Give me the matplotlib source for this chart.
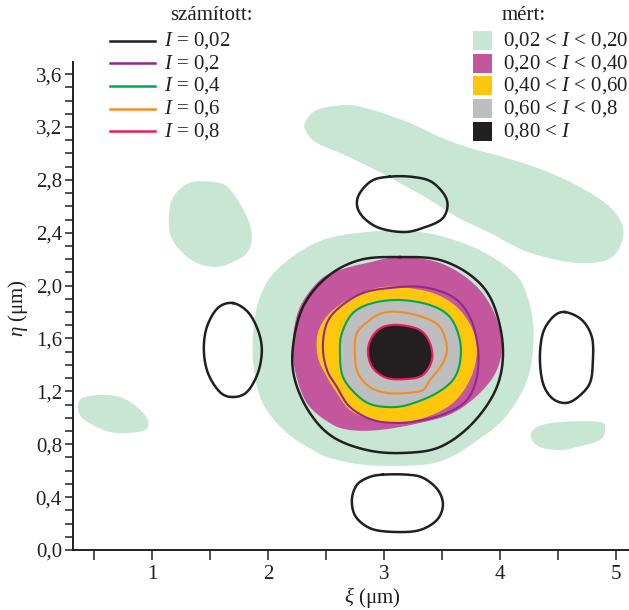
import numpy as np
import matplotlib.pyplot as plt
from matplotlib.lines import Line2D
from matplotlib.patches import Rectangle
from matplotlib.ticker import MultipleLocator, FuncFormatter

plt.rcParams['font.family'] = ['Liberation Serif', 'DejaVu Serif']
plt.rcParams['mathtext.fontset'] = 'custom'
plt.rcParams['mathtext.rm'] = 'Liberation Serif'
plt.rcParams['mathtext.it'] = 'Liberation Serif:italic'
plt.rcParams['mathtext.fallback'] = 'stix'

mert_002_center = [(2.966, 2.413), (3.371, 2.398), (3.767, 2.292), (4.060, 2.141), (4.198, 2.005),
                   (4.284, 1.740), (4.276, 1.437), (4.198, 1.210), (4.026, 0.983), (3.810, 0.832),
                   (3.612, 0.719), (3.397, 0.651), (3.052, 0.635), (2.767, 0.651), (2.534, 0.696),
                   (2.388, 0.756), (2.164, 0.885), (1.974, 1.082), (1.888, 1.309), (1.871, 1.611),
                   (1.931, 1.914), (2.103, 2.141), (2.474, 2.345)]
mert_002_band = [(2.319, 3.230), (2.422, 3.328), (2.681, 3.366), (2.905, 3.328), (3.224, 3.230),
                 (3.483, 3.124), (3.741, 3.041), (4.026, 2.973), (4.371, 2.874), (4.690, 2.746),
                 (4.948, 2.595), (5.060, 2.443), (5.034, 2.292), (4.922, 2.194), (4.716, 2.171),
                 (4.491, 2.194), (4.198, 2.269), (3.914, 2.398), (3.629, 2.519), (3.397, 2.648),
                 (3.138, 2.776), (2.879, 2.897), (2.621, 3.003), (2.422, 3.079), (2.336, 3.154)]
mert_002_topleft = [(1.353, 2.784), (1.586, 2.776), (1.698, 2.700), (1.819, 2.519), (1.862, 2.368),
                    (1.819, 2.247), (1.698, 2.179), (1.560, 2.141), (1.388, 2.171), (1.241, 2.269),
                    (1.155, 2.398), (1.155, 2.595), (1.216, 2.708)]
mert_002_left = [(0.379, 1.135), (0.526, 1.172), (0.724, 1.157), (0.871, 1.082), (0.966, 0.983),
                 (0.940, 0.908), (0.784, 0.885), (0.638, 0.893), (0.491, 0.946), (0.379, 1.021)]
mert_002_right = [(4.319, 0.930), (4.517, 0.968), (4.862, 0.968), (4.905, 0.908), (4.862, 0.832),
                  (4.664, 0.779), (4.517, 0.756), (4.345, 0.779), (4.267, 0.855)]
mert_020 = [(3.138, 2.216), (3.483, 2.171), (3.767, 2.020), (3.940, 1.815), (4.017, 1.566),
            (3.974, 1.362), (3.828, 1.188), (3.595, 1.036), (3.310, 0.961), (2.966, 0.908),
            (2.707, 0.908), (2.534, 0.961), (2.336, 1.112), (2.233, 1.362), (2.216, 1.589),
            (2.276, 1.838), (2.448, 2.042), (2.621, 2.118), (2.853, 2.171)]
mert_040 = [(3.138, 1.989), (3.422, 1.944), (3.629, 1.838), (3.767, 1.664), (3.802, 1.490),
            (3.741, 1.286), (3.595, 1.112), (3.371, 1.006), (3.138, 0.968), (2.905, 0.983),
            (2.707, 1.059), (2.595, 1.188), (2.509, 1.309), (2.431, 1.460), (2.431, 1.641),
            (2.534, 1.793), (2.733, 1.914), (2.940, 1.982)]

# calculated contours
szam_002 = [(3.138, 2.216), (3.483, 2.194), (3.767, 2.065), (3.940, 1.868), (4.026, 1.536),
            (3.974, 1.233), (3.767, 0.961), (3.483, 0.779), (3.164, 0.734), (2.853, 0.756),
            (2.560, 0.855), (2.362, 1.036), (2.233, 1.286), (2.216, 1.536), (2.302, 1.838),
            (2.509, 2.065), (2.793, 2.194)]
szam_002_top = [(3.050, 2.824), (3.250, 2.822), (3.420, 2.780), (3.543, 2.648), (3.509, 2.511),
                (3.336, 2.436), (3.164, 2.405), (2.940, 2.443), (2.793, 2.549), (2.776, 2.670),
                (2.890, 2.790)]
szam_002_bottom = [(2.990, 0.570), (3.200, 0.570), (3.340, 0.545), (3.466, 0.454), (3.509, 0.340),
                   (3.457, 0.227), (3.310, 0.151), (3.112, 0.136), (2.897, 0.159), (2.759, 0.250),
                   (2.724, 0.378), (2.767, 0.492), (2.870, 0.550)]
szam_002_left = [(1.698, 1.868), (1.828, 1.800), (1.914, 1.664), (1.948, 1.513), (1.914, 1.339),
                 (1.819, 1.195), (1.698, 1.157), (1.586, 1.195), (1.483, 1.339), (1.448, 1.513),
                 (1.474, 1.687), (1.569, 1.831)]
szam_002_right = [(4.560, 1.800), (4.707, 1.740), (4.793, 1.611), (4.802, 1.437), (4.776, 1.263),
                  (4.664, 1.150), (4.560, 1.112), (4.448, 1.150), (4.371, 1.263), (4.345, 1.452),
                  (4.371, 1.641), (4.457, 1.762)]
szam_02 = [(2.819, 1.944), (3.052, 1.982), (3.336, 1.989), (3.595, 1.914), (3.741, 1.762),
           (3.810, 1.536), (3.802, 1.309), (3.716, 1.135), (3.543, 1.036), (3.336, 0.983),
           (3.138, 0.961), (2.905, 0.983), (2.707, 1.082), (2.595, 1.233), (2.509, 1.362),
           (2.474, 1.536), (2.509, 1.717), (2.621, 1.838)]
szam_04 = [(3.138, 1.891), (3.397, 1.853), (3.569, 1.762), (3.655, 1.589), (3.655, 1.415),
           (3.595, 1.286), (3.457, 1.188), (3.284, 1.120), (3.112, 1.082), (2.905, 1.097),
           (2.767, 1.172), (2.647, 1.309), (2.621, 1.490), (2.638, 1.641), (2.733, 1.793),
           (2.905, 1.868)]
szam_06 = [(3.138, 1.800), (3.336, 1.762), (3.483, 1.687), (3.543, 1.536), (3.509, 1.415),
           (3.397, 1.286), (3.336, 1.210), (3.198, 1.188), (3.026, 1.188), (2.879, 1.233),
           (2.776, 1.339), (2.750, 1.490), (2.767, 1.641), (2.879, 1.740), (2.991, 1.793)]
szam_08 = [(3.138, 1.702), (3.310, 1.664), (3.397, 1.566), (3.414, 1.437), (3.336, 1.324),
           (3.198, 1.293), (3.026, 1.301), (2.905, 1.377), (2.862, 1.498), (2.897, 1.611),
           (2.991, 1.687)]

szam_labels = ['$I$ = 0,02', '$I$ = 0,2', '$I$ = 0,4', '$I$ = 0,6', '$I$ = 0,8']
szam_colors = ['#231F20', '#93278F', '#00A650', '#F68B1F', '#ED1C5B']
mert_labels = ['0,02 < $I$ < 0,20', '0,20 < $I$ < 0,40', '0,40 < $I$ < 0,60',
               '0,60 < $I$ < 0,8', '0,80 < $I$']
mert_colors = ['#C8E6D4', '#C4569D', '#FFC60B', '#BCBEC0', '#231F20']

ink = '#231F20'


def smooth(pts, n=16):
    p = np.array(pts)
    m = len(p)
    t = np.linspace(0, 1, n, endpoint=False)[:, None]
    segs = []
    for i in range(m):
        p0, p1, p2, p3 = p[i - 1], p[i], p[(i + 1) % m], p[(i + 2) % m]
        segs.append(0.5 * (2 * p1 + (-p0 + p2) * t + (2 * p0 - 5 * p1 + 4 * p2 - p3) * t ** 2
                           + (-p0 + 3 * p1 - 3 * p2 + p3) * t ** 3))
    out = np.vstack(segs)
    out = np.vstack([out, out[:1]])
    return out[:, 0], out[:, 1]


fig = plt.figure(figsize=(6.29, 6.10), dpi=100)
ax = fig.add_axes([73 / 629, 60 / 610, 556 / 629, 488 / 610])

for shape in [mert_002_center, mert_002_band, mert_002_topleft, mert_002_left, mert_002_right]:
    ax.fill(*smooth(shape), color=mert_colors[0], lw=0)
ax.fill(*smooth(mert_020), color=mert_colors[1], lw=0)
ax.fill(*smooth(mert_040), color=mert_colors[2], lw=0)
ax.fill(*smooth(szam_04), color=mert_colors[3], lw=0)
ax.fill(*smooth(szam_08), color=mert_colors[4], lw=0)

for shape in [szam_002, szam_002_top, szam_002_bottom, szam_002_left, szam_002_right]:
    ax.plot(*smooth(shape), color=szam_colors[0], lw=1.8)
for shape, c in zip([szam_02, szam_04, szam_06, szam_08], szam_colors[1:]):
    ax.plot(*smooth(shape), color=c, lw=1.5)

ax.set_xlim(0.32, 0.32 + 556 / 116)
ax.set_ylim(0, 488 / 132.2)
for s in ['top', 'right']:
    ax.spines[s].set_visible(False)
for s in ['left', 'bottom']:
    ax.spines[s].set_linewidth(1.4)
    ax.spines[s].set_color(ink)

ax.xaxis.set_major_locator(MultipleLocator(1))
ax.xaxis.set_minor_locator(MultipleLocator(0.5))
ax.yaxis.set_major_locator(MultipleLocator(0.4))
ax.yaxis.set_minor_locator(MultipleLocator(0.1))
ax.yaxis.set_major_formatter(FuncFormatter(lambda v, p: f'{v:.1f}'.replace('.', ',')))
ax.xaxis.set_major_formatter(FuncFormatter(lambda v, p: f'{v:.0f}'))
ax.tick_params(axis='x', which='both', length=7, width=1.1, color=ink, pad=4,
               labelsize=15, labelcolor=ink)
ax.tick_params(axis='y', which='both', length=6, width=1.1, color=ink, pad=2,
               labelsize=15, labelcolor=ink)

# overlay in pixel units for legends and axis titles
ov = fig.add_axes([0, 0, 1, 1], zorder=5)
ov.set_xlim(0, 629)
ov.set_ylim(610, 0)
ov.axis('off')

ov.text(372, 598, r'$\xi$ (μm)', ha='center', va='center', fontsize=15, color=ink)
ov.text(18, 308, r'$\eta$ (μm)', ha='center', va='center', fontsize=15, color=ink, rotation=90)

ov.text(170, 15, 'számított:', ha='left', va='center', fontsize=15, color=ink)
for i, (lab, c) in enumerate(zip(szam_labels, szam_colors)):
    yy = 40.5 + 22.7 * i
    ov.add_line(Line2D([110, 155], [yy, yy], color=c, lw=1.8))
    ov.text(164, yy, lab, ha='left', va='center', fontsize=15, color=ink)

ov.text(502, 15, 'mért:', ha='left', va='center', fontsize=15, color=ink)
for i, (lab, c) in enumerate(zip(mert_labels, mert_colors)):
    yy = 40.5 + 22.7 * i
    ov.add_patch(Rectangle((473, yy - 9.5), 19, 19, color=c, lw=0))
    ov.text(503, yy, lab, ha='left', va='center', fontsize=15, color=ink)

fig.savefig('out.png', dpi=100)
